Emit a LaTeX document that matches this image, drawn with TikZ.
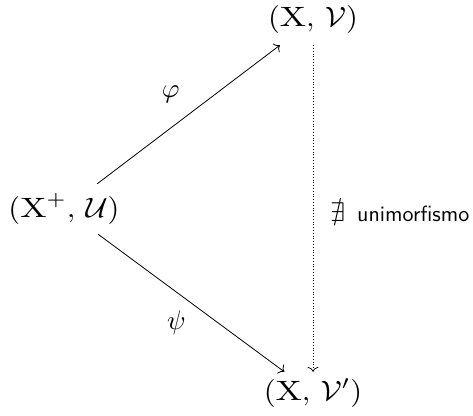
\documentclass[tikz,border=0pt]{standalone}
\usepackage{graphicx}
\usepackage{amsmath,amssymb}
\usetikzlibrary{arrows.meta}
\newcommand{\diagmath}[1]{\scalebox{2.7}{$#1$}}
\newcommand{\objmath}[1]{\scalebox{3.05}[2.8]{$#1$}}
\newcommand{\wideX}{\scalebox{1.15}[1]{$\mathrm{X}$}}
\begin{document}
\begin{tikzpicture}[x=1pt,y=1pt,
  obj/.style={inner sep=0pt, minimum height=50pt, minimum width=10pt},
  lbl/.style={inner sep=0pt},
  arr/.style={line width=0.8pt, -{To[length=5pt,width=11pt]}},
  dotarr/.style={line width=0.8pt, dotted, -{To[length=5pt,width=11pt]}}]
\useasboundingbox (0,0) rectangle (473,415);
\node[obj] (L) at (64,206) {\objmath{(\wideX^+,\,\mathcal{U})}};
\node[obj] (T) at (313,395) {\objmath{(\wideX,\,\mathcal{V})}};
\node[obj, minimum height=42pt] (B) at (313,22) {\objmath{(\wideX,\,\mathcal{V}')}};
\draw[arr] (L) -- node[lbl, pos=0.49, xshift=-16pt, yshift=21.7pt] (phi) {\diagmath{\varphi}} (T);
\draw[arr] (L) -- node[lbl, pos=0.5, xshift=-14.8pt, yshift=-20.2pt] (psi) {\diagmath{\psi}} (B);
\draw[dotarr] (T) -- (B);
\node[anchor=west, inner sep=0pt] (ex) at (330,203) {\diagmath{\nexists}\hspace{12pt}\scalebox{2.2}{\sffamily unimorfismo}};
\end{tikzpicture}
\end{document}
